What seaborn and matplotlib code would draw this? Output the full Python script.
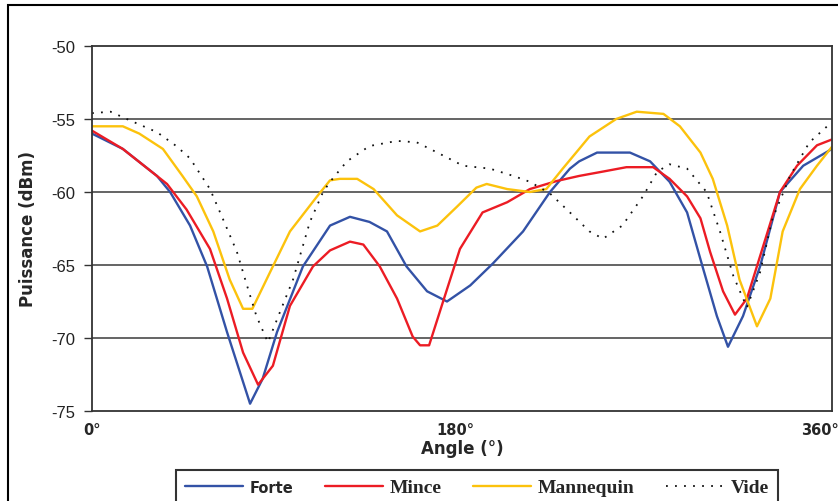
import matplotlib
matplotlib.use("Agg")
import matplotlib.pyplot as plt
import matplotlib.transforms as mtransforms
from matplotlib.patches import Rectangle
import seaborn as sns
import pandas as pd

# --- data (angle in degrees, power in dBm) ---
forte_angle = [0, 15, 31.6, 38, 47.7, 56, 65.7, 76.9, 83, 90, 102.6, 115.8, 125.5, 135,
               143.5, 153, 163, 172.7, 184, 195, 209.7, 222.8, 232.5, 237, 245.7, 261.7,
               271.5, 281, 289.5, 297, 304, 309.4, 316.7, 325, 334.7, 346, 360]
forte_dbm = [-56.0, -57.05, -58.9, -60.0, -62.3, -65.1, -69.6, -74.5, -72.8, -69.6, -65.1,
             -62.3, -61.7, -62.05, -62.7, -65.1, -66.8, -67.5, -66.4, -64.9, -62.7, -60.0,
             -58.4, -57.9, -57.3, -57.3, -57.9, -59.3, -61.4, -65.1, -68.5, -70.6, -68.5,
             -65.1, -60.0, -58.2, -57.05]

mince_angle = [0, 15, 36.5, 46, 57.4, 65.7, 73.5, 80.8, 88, 96.3, 107.5, 115.8, 125.5, 132,
               140, 148.4, 156, 159.6, 164, 170.8, 179, 190, 202, 213, 226, 237, 248.6, 260,
               273, 281, 289.5, 296, 300.7, 307, 312.8, 318.6, 325, 334.7, 343, 352.7, 360]
mince_dbm = [-55.8, -57.05, -59.45, -61.2, -63.9, -67.3, -71.0, -73.2, -71.9, -67.8, -65.1,
             -64.0, -63.4, -63.6, -65.1, -67.3, -69.9, -70.5, -70.5, -67.5, -63.9, -61.4,
             -60.7, -59.8, -59.25, -58.9, -58.6, -58.3, -58.3, -59.1, -60.3, -61.8, -64.1,
             -66.8, -68.4, -67.3, -64.4, -60.0, -58.2, -56.8, -56.4]

mannequin_angle = [0, 15, 23, 34.5, 44, 51, 59, 67, 73.5, 78, 86.6, 96.3, 109.5, 115.8, 120.6,
                   129, 137, 148.4, 159.6, 168, 177.6, 187, 192, 202, 213, 221, 229, 237, 242,
                   255, 265, 278, 286, 296, 302, 309, 315, 323.5, 330, 336, 344.4, 352.7, 360]
mannequin_dbm = [-55.5, -55.5, -56.0, -57.05, -58.9, -60.3, -62.7, -66.0, -68.0, -68.0, -65.5,
                 -62.7, -60.3, -59.2, -59.1, -59.1, -59.8, -61.6, -62.7, -62.3, -61.0, -59.7,
                 -59.45, -59.8, -60.0, -59.8, -58.4, -57.05, -56.2, -55.0, -54.5, -54.65,
                 -55.5, -57.3, -59.1, -62.3, -66.0, -69.2, -67.3, -62.7, -59.8, -58.2, -56.9]

vide_angle = [0, 9, 18.5, 31.6, 41, 47.7, 57.4, 63.7, 70.5, 75.4, 80, 85.6, 91.5, 97.8, 106,
              112.4, 115.8, 124, 135, 148.4, 158, 168, 180.5, 193.6, 205, 213, 222.8, 232.5,
              242, 248.6, 258, 268, 275, 281, 289.5, 299, 305.5, 312, 318.6, 325, 331, 339.6,
              349, 360]
vide_dbm = [-54.6, -54.5, -55.1, -55.9, -56.85, -57.7, -59.8, -61.85, -64.1, -66.4, -68.5,
            -70.3, -68.2, -66.0, -62.05, -60.0, -59.3, -57.9, -56.85, -56.5, -56.6, -57.3,
            -58.2, -58.4, -58.9, -59.3, -60.1, -61.4, -62.7, -63.2, -62.3, -60.3, -58.6,
            -58.1, -58.4, -60.0, -62.7, -65.75, -67.9, -65.5, -61.85, -58.9, -56.6, -55.2]

series_names = ["Forte", "Mince", "Mannequin", "Vide"]
x_ticks = [0, 180, 360]
x_tick_labels = ["0°", "180°", "360°"]
y_ticks = [-75, -70, -65, -60, -55, -50]

df = pd.concat([
    pd.DataFrame({"Angle": forte_angle, "dBm": forte_dbm, "Série": "Forte"}),
    pd.DataFrame({"Angle": mince_angle, "dBm": mince_dbm, "Série": "Mince"}),
    pd.DataFrame({"Angle": mannequin_angle, "dBm": mannequin_dbm, "Série": "Mannequin"}),
    pd.DataFrame({"Angle": vide_angle, "dBm": vide_dbm, "Série": "Vide"}),
])

colors = {"Forte": "#3352A6", "Mince": "#EC1C24", "Mannequin": "#FCC20C", "Vide": "#111111"}
styles = {"Forte": "-", "Mince": "-", "Mannequin": "-", "Vide": (0, (1, 4))}
widths = {"Forte": 1.7, "Mince": 1.7, "Mannequin": 1.7, "Vide": 1.3}

sns.set_style("white")
plt.rcParams["font.family"] = ["Liberation Sans", "DejaVu Sans"]

fig = plt.figure(figsize=(8.38, 5.02), dpi=100)
ax = fig.add_axes([92 / 838, 1 - 412 / 502, 740 / 838, 365 / 502])

for name in series_names:
    sub = df[df["Série"] == name]
    sns.lineplot(data=sub, x="Angle", y="dBm", ax=ax, color=colors[name],
                 linestyle=styles[name], linewidth=widths[name], label=name,
                 estimator=None, sort=False, legend=False)

ax.set_xlim(0, 360)
ax.set_ylim(-75, -50)
ax.set_yticks(y_ticks)
ax.set_yticklabels([str(v) for v in y_ticks], fontsize=12, color="#222222")
ax.set_xticks(x_ticks)
ax.set_xticklabels(x_tick_labels, fontsize=10.5, fontweight="bold", family="DejaVu Sans")
ax.tick_params(axis="y", length=6, width=1, color="#333333", pad=6, direction="out", left=True)
ax.tick_params(axis="x", length=0, pad=8)

# shift the 180 / 360 labels slightly left like the original
for lbl, dx in zip(ax.get_xticklabels(), [0, -7, -12]):
    lbl.set_transform(lbl.get_transform() + mtransforms.ScaledTranslation(dx / 100, 0, fig.dpi_scale_trans))

for v in [-70, -65, -60, -55]:
    ax.axhline(v, color="#3a3a3a", linewidth=1.1, zorder=0)

for sp in ax.spines.values():
    sp.set_color("#333333")
    sp.set_linewidth(1.3)

ax.set_xlabel("Angle (°)", fontsize=12, fontweight="bold", family="DejaVu Sans")
ax.set_ylabel("Puissance (dBm)", fontsize=12, fontweight="bold", family="DejaVu Sans")
ax.xaxis.set_label_coords(0.5, -0.078)
ax.yaxis.set_label_coords(-0.074, 0.5)

handles, labels = ax.get_legend_handles_labels()
leg = ax.legend(handles, labels, ncol=4, loc="upper left",
                bbox_to_anchor=(176 / 838, 31 / 502),
                bbox_transform=fig.transFigure, borderaxespad=0, borderpad=0.45,
                prop={"family": "Liberation Serif", "weight": "bold", "size": 14},
                handlelength=3.0, handletextpad=0.35, columnspacing=1.6,
                frameon=True, fancybox=False)
leg.get_frame().set_edgecolor("black")
leg.get_frame().set_linewidth(1.5)
leg.get_texts()[0].set_fontfamily("DejaVu Sans")
leg.get_texts()[0].set_fontsize(10.5)

fig.patches.append(Rectangle((8 / 838, -0.5), 1.2, 0.5 + 1 - 6 / 502, transform=fig.transFigure,
                             fill=False, edgecolor="black", linewidth=1.5, clip_on=False))

fig.savefig("out.png", dpi=100)
